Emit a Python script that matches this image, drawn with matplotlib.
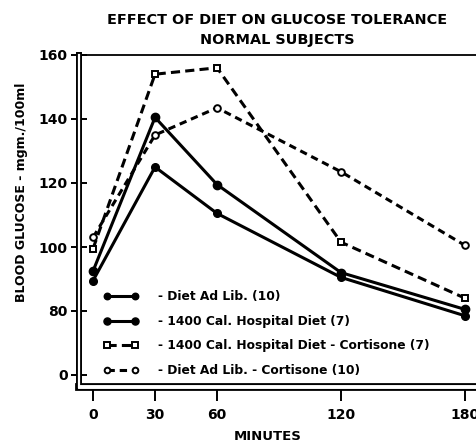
import matplotlib
matplotlib.use("Agg")
import matplotlib.pyplot as plt
from matplotlib.lines import Line2D

# data
minutes = [0, 30, 60, 120, 180]
ad_lib = [89.5, 125, 110.5, 90.5, 78.5]
hospital = [92.5, 140.5, 119.5, 92, 80.5]
hospital_cortisone = [99.5, 154, 156, 101.5, 84]
ad_lib_cortisone = [103, 135, 143.5, 123.5, 100.5]

labels = ["- Diet Ad Lib. (10)",
          "- 1400 Cal. Hospital Diet (7)",
          "- 1400 Cal. Hospital Diet - Cortisone (7)",
          "- Diet Ad Lib. - Cortisone (10)"]

y_ticks = [60, 80, 100, 120, 140, 160]
y_ticklabels = ["0", "80", "100", "120", "140", "160"]
x_ticks = [0, 30, 60, 120, 180]

plt.rcParams['font.family'] = ['DejaVu Sans']
plt.rcParams['font.weight'] = 'bold'

fig = plt.figure(figsize=(4.77, 4.42), dpi=100)
L, B = 79 / 477, 1 - 387 / 442
ax = fig.add_axes([L, B, 1 - L, (1 - 55 / 442) - B])

lw = 2.2
ax.plot(minutes, ad_lib, color='black', lw=lw, marker='o', ms=5.5,
        label=labels[0], solid_capstyle='butt')
ax.plot(minutes, hospital, color='black', lw=lw, marker='o', ms=6,
        label=labels[1], solid_capstyle='butt')
ax.plot(minutes, hospital_cortisone, color='black', lw=lw, dashes=(3, 1.7),
        marker='s', ms=4.5, mfc='white', mew=1.4, label=labels[2])
ax.plot(minutes, ad_lib_cortisone, color='black', lw=lw, dashes=(2.4, 1.6),
        marker='o', ms=4.8, mfc='white', mew=1.4, label=labels[3])

ax.set_xlim(-6.8, 185.8)
ax.set_ylim(56.25, 160)

ax.set_yticks(y_ticks)
ax.set_yticklabels(y_ticklabels)
ax.set_xticks(x_ticks)
ax.tick_params(axis='y', direction='inout', length=12, width=1.4,
               labelsize=10, pad=2)
ax.tick_params(axis='x', direction='out', length=10, width=1.4,
               labelsize=10, pad=5)

ax.spines['right'].set_visible(False)
ax.spines['top'].set_linewidth(1.3)
ax.spines['left'].set_linewidth(4.3)
ax.spines['bottom'].set_linewidth(5.6)

# hollow middle of the double axis lines
ax.add_line(Line2D([0, 0], [0, 1], transform=ax.transAxes, color='white',
                   lw=1.6, clip_on=False, zorder=5))
ax.add_line(Line2D([0.003, 1], [0, 0], transform=ax.transAxes, color='white',
                   lw=2.8, clip_on=False, zorder=5))

ax.legend(loc='upper left', bbox_to_anchor=(0.045, 0.31), frameon=False,
          numpoints=2, handlelength=2.9, handletextpad=1.6, labelspacing=0.95,
          borderpad=0, markerscale=0.85,
          prop={'size': 8.8, 'weight': 'bold'})

fig.text(0.581, 0.955, "EFFECT OF DIET ON GLUCOSE TOLERANCE", ha='center',
         va='center', fontsize=10.4, fontweight='bold')
fig.text(0.581, 0.91, "NORMAL SUBJECTS", ha='center', va='center',
         fontsize=10.4, fontweight='bold')
fig.text(0.046, 0.566, "BLOOD GLUCOSE - mgm./100ml", rotation=90, ha='center',
         va='center', fontsize=9, fontweight='bold')
fig.text(0.562, 0.012, "MINUTES", ha='center', va='center', fontsize=9.5,
         fontweight='bold')

fig.savefig("out.png", dpi=100)
